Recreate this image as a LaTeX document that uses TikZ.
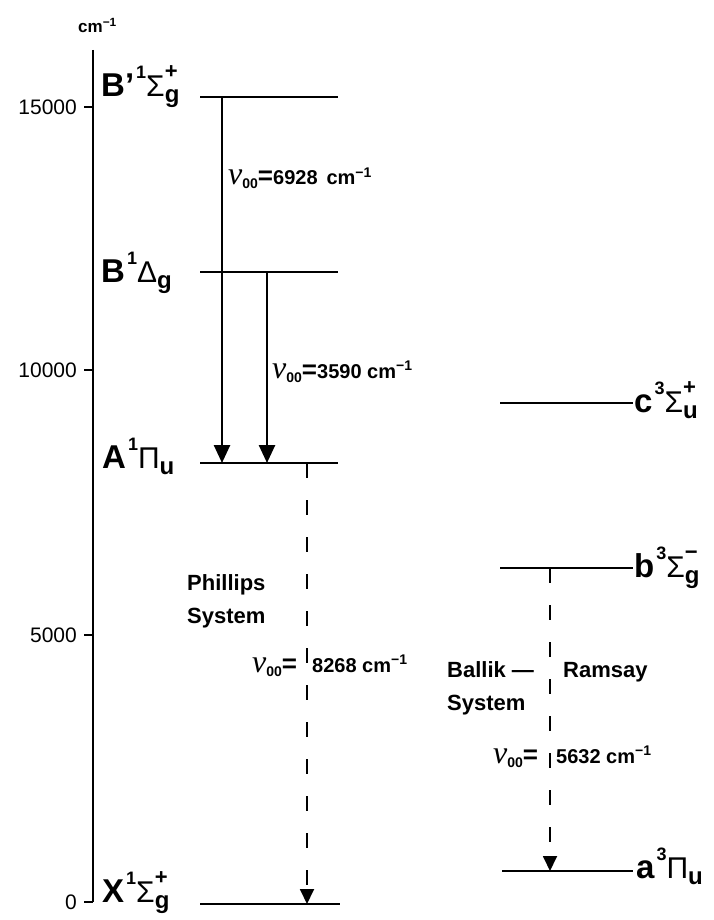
\documentclass[tikz,border=0pt]{standalone}
\usepackage{fontspec}
\setmainfont{Liberation Sans}
\newfontfamily\nufont{Liberation Serif}
\usetikzlibrary{arrows.meta}

\newcommand{\fs}[1]{\fontsize{#1}{#1}\selectfont}
% term symbol: letter, multiplicity, greek, subscript, superscript
\newcommand{\term}[5]{{\fs{33}#1}\kern2pt\raisebox{18pt}{\fs{18}#2}%
  {\mdseries\fs{30}#3}\rlap{\raisebox{18pt}{\fs{22}#5}}\raisebox{-6pt}{\fs{24}#4}}
\newcommand{\nuoo}{{\nufont\mdseries\itshape\fs{32}ν}\raisebox{-4pt}{\fs{14}00}{\fs{26}=}}

\begin{document}
\begin{tikzpicture}[x=1pt, y=-1pt,
    level/.style={line width=1.8pt},
    emit/.style={line width=2.6pt, -{Triangle[length=18pt,width=16pt]}},
    weak/.style={line width=1.8pt, dash pattern=on 15pt off 22pt, -{Triangle[length=15pt,width=14pt]}},
    term/.style={anchor=base west, inner sep=0pt, font=\bfseries},
    lab/.style={anchor=base west, inner sep=0pt, font=\bfseries\fs{22}},
    val/.style={anchor=base west, inner sep=0pt, font=\bfseries\fs{20}},
    tick/.style={anchor=east, inner sep=0pt, font=\fs{21}}]
    \useasboundingbox (0,0) rectangle (713,920);
    % energy axis
    \node[anchor=base west, inner sep=0pt, font=\bfseries\fs{17}] (unit) at (78,33) {cm\textsuperscript{−1}};
    \draw[line width=1.8pt] (93,50) -- (93,902);
    \foreach \y/\v in {107/15000, 370/10000, 635/5000, 902/0} {
        \draw[line width=1.8pt] (84,\y) -- (93,\y);
        \node[tick] (t\v) at (77,\y) {\v};
    }
    % levels
    \foreach \n/\xa/\xb/\y in {Bp/200/338/97, B/200/338/272, A/200/338/463, X/200/340/904,
                               c/500/633/403, b/500/633/568, a/502/633/871} {
        \coordinate (\n-l) at (\xa,\y);
        \coordinate (\n-r) at (\xb,\y);
        \draw[level] (\n-l) -- (\n-r);
    }
    \node[term] (Bplab) at (101,97) {\term{B’}{1}{Σ}{g}{+}};
    \node[term] (Blab) at (101,282) {\term{B}{1}{Δ}{g}{}};
    \node[term] (Alab) at (102,468) {\term{A}{1}{Π}{u}{}};
    \node[term] (Xlab) at (102,902) {\term{X}{1}{Σ}{g}{+}};
    \node[term] (clab) at (634,412) {\term{c}{3}{Σ}{u}{+}};
    \node[term] (blab) at (634,577) {\term{b}{3}{Σ}{g}{−}};
    \node[term] (alab) at (636,878) {\term{a}{3}{Π}{u}{}};
    % transitions
    \coordinate (Bp-1) at (222,97);  \coordinate (A-1) at (222,463);
    \coordinate (B-1) at (267,272);  \coordinate (A-2) at (267,463);
    \coordinate (A-3) at (307,463);  \coordinate (X-1) at (307,904);
    \coordinate (b-1) at (550,568);  \coordinate (a-1) at (550,871);
    \draw[emit] (Bp-1) -- (A-1);
    \draw[emit] (B-1) -- (A-2);
    \draw[weak] (A-3) -- (X-1);
    \draw[weak] (b-1) -- (a-1);
    \node[val] (nu1) at (228,185) {\nuoo6928 \,cm\textsuperscript{−1}};
    \node[val] (nu2) at (272,378) {\nuoo3590 cm\textsuperscript{−1}};
    \node[lab] (ph1) at (187,590) {Phillips};
    \node[lab] (ph2) at (187,623) {System};
    \node[val] (nu3a) at (252,672) {\nuoo};
    \node[val] (nu3b) at (312,672) {8268 cm\textsuperscript{−1}};
    \node[lab] (br1) at (447,677) {Ballik —};
    \node[lab] (br2) at (563,677) {Ramsay};
    \node[lab] (br3) at (447,710) {System};
    \node[val] (nu4a) at (493,763) {\nuoo};
    \node[val] (nu4b) at (556,763) {5632 cm\textsuperscript{−1}};
\end{tikzpicture}
\end{document}
